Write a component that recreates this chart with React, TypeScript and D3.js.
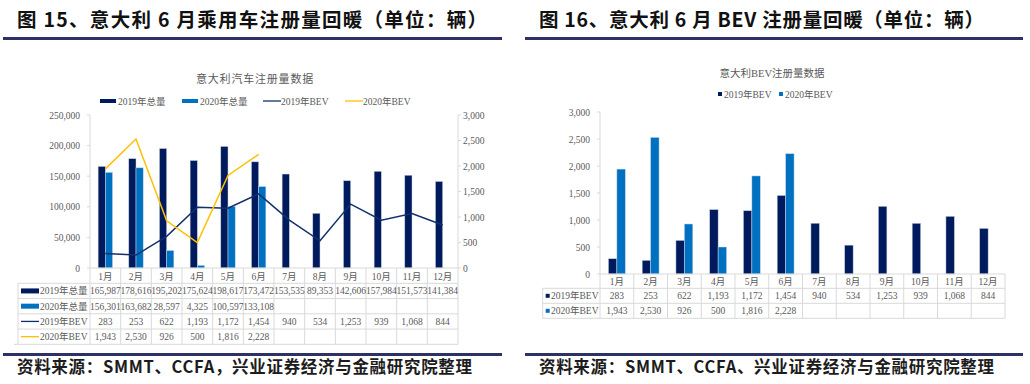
import React from 'react';
import * as d3 from 'd3';

// chart data
const months = ['1月', '2月', '3月', '4月', '5月', '6月', '7月', '8月', '9月', '10月', '11月', '12月'];
const total2019 = [165987, 178616, 195202, 175624, 198617, 173472, 153535, 89353, 142606, 157984, 151573, 141384];
const total2020 = [156301, 163682, 28597, 4325, 100597, 133108];
const bev2019 = [283, 253, 622, 1193, 1172, 1454, 940, 534, 1253, 939, 1068, 844];
const bev2020 = [1943, 2530, 926, 500, 1816, 2228];
const totalTicks = [0, 50000, 100000, 150000, 200000, 250000];
const bevTicks = [0, 500, 1000, 1500, 2000, 2500, 3000];

const DARK = '#001a5e';
const BLUE = '#0070c0';
const LINE19 = '#12306e';
const YELLOW = '#ffc000';
const GRID = '#d9d9d9';
const TXT = '#595959';
const RULE = '#2e3163';
const SERIF = '"Liberation Serif", "Times New Roman", "Noto Sans CJK SC", serif';
const HEAD = '"Noto Sans CJK SC", "Noto Sans", sans-serif';

const fmt = d3.format(',');

function Header({ x0, x1, title, titleLen, source, sourceLen }: any) {
  return (
    <g>
      <text x={x0 + 14} y={27} fontFamily={HEAD} fontWeight={700} fontSize={19.5} fill="#111"
        textLength={titleLen} lengthAdjust="spacing">{title}</text>
      <line x1={x0} x2={x1} y1={38.5} y2={38.5} stroke={RULE} strokeWidth={3} />
      <line x1={x0} x2={x1} y1={354.6} y2={354.6} stroke={RULE} strokeWidth={3} />
      <text x={x0 + 14} y={373} fontFamily={HEAD} fontWeight={700} fontSize={16.5} fill="#1c1c1c"
        textLength={sourceLen} lengthAdjust="spacing">{source}</text>
    </g>
  );
}

function TotalChart() {
  const x = d3.scaleBand().domain(months).range([90, 458]);
  const yL = d3.scaleLinear().domain([0, 250000]).range([268, 115]);
  const yR = d3.scaleLinear().domain([0, 3000]).range([268, 115]);
  const bw = x.bandwidth() * 0.235;
  const cx = (m: string) => (x(m) as number) + x.bandwidth() / 2;
  const line = d3.line<number>().x((_, i) => cx(months[i])).y(d => yR(d));
  const rowTop = 283.3;
  const rowH = 15.25;
  const rows = [
    { name: '2019年总量', vals: total2019, kind: 'bar', color: DARK },
    { name: '2020年总量', vals: total2020, kind: 'bar', color: BLUE },
    { name: '2019年BEV', vals: bev2019, kind: 'line', color: LINE19 },
    { name: '2020年BEV', vals: bev2020, kind: 'line', color: YELLOW },
  ];
  const legendX = [100, 182, 263, 345];
  return (
    <g>
      <text x={255} y={83} textAnchor="middle" fontFamily={SERIF} fontSize={11} fill={TXT} letterSpacing={0.8}>意大利汽车注册量数据</text>
      {rows.map((r, i) => (
        <g key={r.name}>
          {r.kind === 'bar'
            ? <rect x={legendX[i]} y={99} width={16} height={4} fill={r.color} />
            : <line x1={legendX[i]} x2={legendX[i] + 18} y1={101} y2={101} stroke={r.color} strokeWidth={1.3} />}
          <text x={legendX[i] + 18} y={104.5} fontFamily={SERIF} fontSize={9.5} fill={TXT}>{r.name}</text>
        </g>
      ))}
      {/* axes */}
      <line x1={90} x2={90} y1={115} y2={268} stroke={GRID} />
      <line x1={458} x2={458} y1={115} y2={268} stroke={GRID} />
      {totalTicks.map(t => (
        <g key={t}>
          <line x1={87} x2={90} y1={yL(t)} y2={yL(t)} stroke={GRID} />
          <text x={80} y={yL(t) + 3.5} textAnchor="end" fontFamily={SERIF} fontSize={9.5} fill={TXT}>{fmt(t)}</text>
        </g>
      ))}
      {bevTicks.map(t => (
        <g key={t}>
          <line x1={458} x2={461} y1={yR(t)} y2={yR(t)} stroke={GRID} />
          <text x={463} y={yR(t) + 3.5} fontFamily={SERIF} fontSize={9.5} fill={TXT}>{fmt(t)}</text>
        </g>
      ))}
      {/* bars */}
      {total2019.map((v, i) => (
        <rect key={'a' + i} x={cx(months[i]) - bw} y={yL(v)} width={bw} height={268 - yL(v)}
          fill={DARK} stroke="#c9cfdb" strokeWidth={0.5} />
      ))}
      {total2020.map((v, i) => (
        <rect key={'b' + i} x={cx(months[i])} y={yL(v)} width={bw} height={268 - yL(v)}
          fill={BLUE} stroke="#c9d8ea" strokeWidth={0.5} />
      ))}
      <path d={line(bev2019) as string} fill="none" stroke={LINE19} strokeWidth={1.5} />
      <path d={line(bev2020) as string} fill="none" stroke={YELLOW} strokeWidth={1.5} />
      {/* data table */}
      <line x1={90} x2={458} y1={268} y2={268} stroke={GRID} />
      {[0, 1, 2, 3, 4].map(k => (
        <line key={k} x1={k === 4 ? 14 : 18} x2={458} y1={rowTop + k * rowH} y2={rowTop + k * rowH} stroke={GRID} />
      ))}
      <line x1={18} x2={18} y1={rowTop} y2={rowTop + 4 * rowH} stroke={GRID} />
      {months.map(m => (
        <line key={m} x1={x(m)} x2={x(m)} y1={268} y2={rowTop + 4 * rowH} stroke={GRID} />
      ))}
      <line x1={458} x2={458} y1={268} y2={rowTop + 4 * rowH} stroke={GRID} />
      {months.map(m => (
        <text key={m} x={cx(m)} y={279.5} textAnchor="middle" fontFamily={SERIF} fontSize={9.5} fill={TXT}>{m}</text>
      ))}
      {rows.map((r, k) => {
        const yMid = rowTop + k * rowH + rowH / 2;
        return (
          <g key={r.name}>
            {r.kind === 'bar'
              ? <rect x={21} y={yMid - 2.5} width={18} height={5} fill={r.color} />
              : <line x1={21} x2={39} y1={yMid} y2={yMid} stroke={r.color} strokeWidth={1.3} />}
            <text x={40} y={yMid + 3.5} fontFamily={SERIF} fontSize={9.5} fill={TXT}>{r.name}</text>
            {r.vals.map((v, i) => (
              <text key={i} x={cx(months[i])} y={yMid + 3.5} textAnchor="middle" fontFamily={SERIF}
                fontSize={9.5} fill={TXT}>{fmt(v)}</text>
            ))}
          </g>
        );
      })}
    </g>
  );
}

function BevChart() {
  const x = d3.scaleBand().domain(months).range([600, 1005]);
  const y = d3.scaleLinear().domain([0, 3000]).range([274, 112]);
  const bw = x.bandwidth() * 0.25;
  const cx = (m: string) => (x(m) as number) + x.bandwidth() / 2;
  const rowTop = 288.3;
  const rowH = 15;
  const rows = [
    { name: '2019年BEV', vals: bev2019, color: DARK },
    { name: '2020年BEV', vals: bev2020, color: BLUE },
  ];
  return (
    <g>
      <text x={772} y={77} textAnchor="middle" fontFamily={SERIF} fontSize={10.5} fill={TXT}>意大利BEV注册量数据</text>
      {rows.map((r, i) => (
        <g key={r.name}>
          <rect x={i === 0 ? 718 : 779} y={92} width={4} height={4} fill={r.color} />
          <text x={i === 0 ? 724 : 785} y={97.5} fontFamily={SERIF} fontSize={9.5} fill={TXT}>{r.name}</text>
        </g>
      ))}
      <line x1={600} x2={600} y1={112} y2={274} stroke={GRID} />
      {bevTicks.map(t => (
        <g key={t}>
          <line x1={597} x2={600} y1={y(t)} y2={y(t)} stroke={GRID} />
          <text x={590} y={y(t) + 3.5} textAnchor="end" fontFamily={SERIF} fontSize={9.5} fill={TXT}>{fmt(t)}</text>
        </g>
      ))}
      {bev2019.map((v, i) => (
        <rect key={'a' + i} x={cx(months[i]) - bw} y={y(v)} width={bw} height={274 - y(v)}
          fill={DARK} stroke="#c9cfdb" strokeWidth={0.5} />
      ))}
      {bev2020.map((v, i) => (
        <rect key={'b' + i} x={cx(months[i])} y={y(v)} width={bw} height={274 - y(v)}
          fill={BLUE} stroke="#c9d8ea" strokeWidth={0.5} />
      ))}
      <line x1={600} x2={1005} y1={274} y2={274} stroke={GRID} />
      {[0, 1, 2].map(k => (
        <line key={k} x1={542.7} x2={1005} y1={rowTop + k * rowH} y2={rowTop + k * rowH} stroke={GRID} />
      ))}
      <line x1={542.7} x2={542.7} y1={rowTop} y2={rowTop + 2 * rowH} stroke={GRID} />
      {months.map(m => (
        <line key={m} x1={x(m)} x2={x(m)} y1={274} y2={rowTop + 2 * rowH} stroke={GRID} />
      ))}
      <line x1={1005} x2={1005} y1={274} y2={rowTop + 2 * rowH} stroke={GRID} />
      {months.map(m => (
        <text key={m} x={cx(m)} y={284.5} textAnchor="middle" fontFamily={SERIF} fontSize={9.5} fill={TXT}>{m}</text>
      ))}
      {rows.map((r, k) => {
        const yMid = rowTop + k * rowH + rowH / 2;
        return (
          <g key={r.name}>
            <rect x={545.7} y={yMid - 2} width={4} height={4} fill={r.color} />
            <text x={551} y={yMid + 3.5} fontFamily={SERIF} fontSize={9.5} fill={TXT}>{r.name}</text>
            {r.vals.map((v, i) => (
              <text key={i} x={cx(months[i])} y={yMid + 3.5} textAnchor="middle" fontFamily={SERIF}
                fontSize={9.5} fill={TXT}>{fmt(v)}</text>
            ))}
          </g>
        );
      })}
    </g>
  );
}

export default function App() {
  return (
    <svg width={1030} height={384} style={{ position: 'absolute', left: 0, top: 0, background: '#fff' }}>
      <rect width={1030} height={384} fill="#fff" />
      <Header x0={3} x1={502} title="图 15、意大利 6 月乘用车注册量回暖（单位：辆）" titleLen={470}
        source="资料来源：SMMT、CCFA，兴业证券经济与金融研究院整理" sourceLen={455} />
      <Header x0={525} x1={1023} title="图 16、意大利 6 月 BEV 注册量回暖（单位：辆）" titleLen={445}
        source="资料来源：SMMT、CCFA、兴业证券经济与金融研究院整理" sourceLen={455} />
      <TotalChart />
      <BevChart />
    </svg>
  );
}
